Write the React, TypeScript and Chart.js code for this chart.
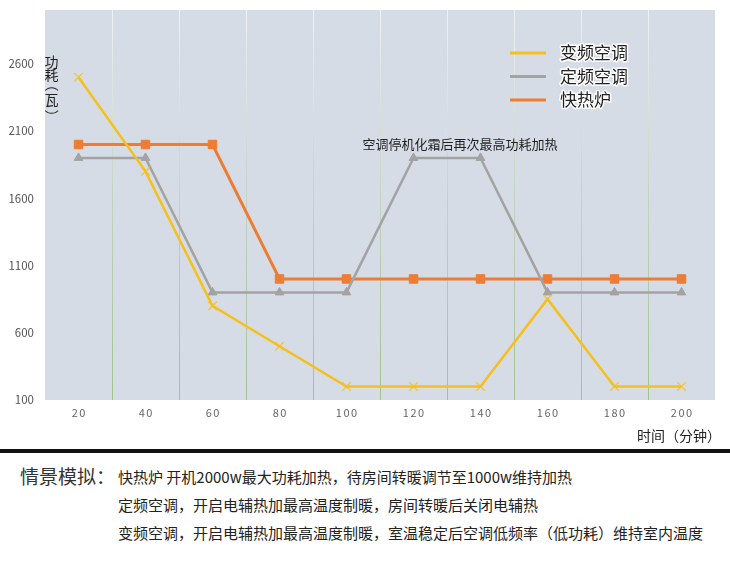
import React, { useEffect, useRef } from 'react';
import { Chart, registerables } from 'chart.js';

Chart.register(...registerables);

const FONT = '"Noto Sans CJK SC", "Noto Sans", sans-serif';

const categories = ['20', '40', '60', '80', '100', '120', '140', '160', '180', '200'];
const seriesNames = ['变频空调', '定频空调', '快热炉'];
const inverterAC = [2500, 1800, 800, 500, 200, 200, 200, 850, 200, 200];
const fixedAC = [1900, 1900, 900, 900, 900, 1900, 1900, 900, 900, 900];
const fastHeater = [2000, 2000, 2000, 1000, 1000, 1000, 1000, 1000, 1000, 1000];
const seriesColors = ['#f5c01c', '#a3a3a3', '#ee7d33'];
const yTicks = [100, 600, 1100, 1600, 2100, 2600];
const yMin = 100;
const yMax = 3000;
const yTitleChars = ['功', '耗', '（', '瓦', '）'];
const annotationText = '空调停机化霜后再次最高功耗加热';
const annotationValue = 2000;
const xTitle = '时间（分钟）';
const scenarioTitle = '情景模拟：';
const scenarioLines = [
  '快热炉 开机2000w最大功耗加热，待房间转暖调节至1000w维持加热',
  '定频空调，开启电辅热加最高温度制暖，房间转暖后关闭电辅热',
  '变频空调，开启电辅热加最高温度制暖，室温稳定后空调低频率（低功耗）维持室内温度',
];

const bgPlugin = {
  id: 'plotBg',
  beforeDraw(chart: any) {
    const { ctx, chartArea } = chart;
    if (!chartArea) return;
    ctx.save();
    ctx.fillStyle = '#d6dce5';
    ctx.fillRect(chartArea.left, chartArea.top, chartArea.right - chartArea.left, chartArea.bottom - chartArea.top);
    ctx.restore();
  },
};

const overlayPlugin = {
  id: 'overlay',
  afterDraw(chart: any) {
    const { ctx, chartArea } = chart;
    const xs = chart.scales.x;
    const ys = chart.scales.y;
    ctx.save();
    // x tick labels (letter-spaced)
    ctx.font = `11px ${FONT}`;
    ctx.fillStyle = '#666666';
    ctx.textAlign = 'center';
    ctx.textBaseline = 'middle';
    (ctx as any).letterSpacing = '1.5px';
    categories.forEach((c, i) => {
      ctx.fillText(c, xs.getPixelForValue(i) + 0.75, chartArea.bottom + 13);
    });
    (ctx as any).letterSpacing = '0px';

    // x title
    ctx.font = `14px ${FONT}`;
    ctx.fillStyle = '#222222';
    ctx.textAlign = 'right';
    ctx.fillText(xTitle, chartArea.right + 6, chartArea.bottom + 36);

    // y title (vertical, brackets turned and ink-centred)
    ctx.font = `14px ${FONT}`;
    ctx.textAlign = 'center';
    ctx.textBaseline = 'alphabetic';
    const yPos = [62, 75, 89, 101, 112];
    const cx = chartArea.left + 6.5;
    yTitleChars.forEach((ch, i) => {
      const cy = yPos[i];
      const m = ctx.measureText(ch);
      const inkCx = (m.actualBoundingBoxRight - m.actualBoundingBoxLeft) / 2;
      const inkCy = (m.actualBoundingBoxDescent - m.actualBoundingBoxAscent) / 2;
      ctx.save();
      ctx.translate(cx, cy);
      if (ch === '（' || ch === '）') ctx.rotate(Math.PI / 2);
      ctx.fillText(ch, -inkCx, -inkCy);
      ctx.restore();
    });
    ctx.textBaseline = 'middle';

    // annotation
    ctx.font = `13px ${FONT}`;
    ctx.fillStyle = '#1f1f1f';
    ctx.textAlign = 'center';
    const ax = (xs.getPixelForValue(5) + xs.getPixelForValue(6)) / 2 + 13;
    ctx.fillText(annotationText, ax, ys.getPixelForValue(annotationValue));

    // legend
    seriesNames.forEach((name, i) => {
      const y = chartArea.top + 43 + i * 23.5;
      const lx = chartArea.right - 205;
      ctx.strokeStyle = seriesColors[i];
      ctx.lineWidth = 3;
      ctx.beginPath();
      ctx.moveTo(lx, y);
      ctx.lineTo(lx + 36, y);
      ctx.stroke();
      ctx.font = `17px ${FONT}`;
      ctx.textAlign = 'left';
      ctx.lineJoin = 'round';
      ctx.lineWidth = 3;
      ctx.strokeStyle = '#ffffff';
      ctx.strokeText(name, lx + 50, y);
      ctx.fillStyle = '#222222';
      ctx.fillText(name, lx + 50, y);
    });
    ctx.restore();
  },
};

export default function App() {
  const ref = useRef<HTMLCanvasElement | null>(null);

  useEffect(() => {
    if (!ref.current) return;
    const chart = new Chart(ref.current, {
      type: 'line',
      data: {
        labels: categories,
        datasets: [
          {
            label: seriesNames[0],
            data: inverterAC,
            borderColor: seriesColors[0],
            backgroundColor: seriesColors[0],
            borderWidth: 2.5,
            pointStyle: 'crossRot',
            pointRadius: 6,
            pointBorderWidth: 1.5,
            pointBorderColor: 'rgba(245,192,28,0.75)',
            tension: 0,
          },
          {
            label: seriesNames[1],
            data: fixedAC,
            borderColor: seriesColors[1],
            backgroundColor: seriesColors[1],
            borderWidth: 2.5,
            pointStyle: 'triangle',
            pointRadius: 5,
            pointBorderWidth: 1,
            tension: 0,
          },
          {
            label: seriesNames[2],
            data: fastHeater,
            borderColor: seriesColors[2],
            backgroundColor: seriesColors[2],
            borderWidth: 3,
            pointStyle: 'rect',
            pointRadius: 6,
            pointBorderWidth: 1,
            tension: 0,
          },
        ],
      },
      options: {
        responsive: false,
        animation: false,
        layout: { padding: { left: 0, top: 10, right: 15, bottom: 0 } },
        plugins: {
          legend: { display: false },
          tooltip: { enabled: false },
        },
        scales: {
          x: {
            type: 'category',
            offset: true,
            border: { display: false },
            ticks: { display: false },
            grid: {
              offset: true,
              drawTicks: false,
              lineWidth: 1,
              color: (c: any) => {
                if (c.type !== 'tick' || c.index === 0) return 'rgba(0,0,0,0)';
                const ca = c.chart.chartArea;
                if (!ca) return '#b5c7ad';
                const g = c.chart.ctx.createLinearGradient(0, ca.top, 0, ca.bottom);
                g.addColorStop(0, '#eef1f4');
                g.addColorStop(0.5, '#c3d2bf');
                g.addColorStop(1, '#9fc38f');
                return g;
              },
            },
            afterFit: (s: any) => {
              s.height = 50;
            },
          },
          y: {
            min: yMin,
            max: yMax,
            border: { display: false },
            grid: { display: false, drawTicks: false },
            afterBuildTicks: (s: any) => {
              s.ticks = yTicks.map((v) => ({ value: v }));
            },
            ticks: {
              padding: 11,
              color: '#555555',
              font: { family: FONT, size: 11.5 },
              callback: (v: any) => String(v),
            },
            afterFit: (s: any) => {
              s.width = 45;
              s.paddingTop = 0;
              s.paddingBottom = 0;
            },
          },
        },
      },
      plugins: [bgPlugin, overlayPlugin],
    });
    return () => chart.destroy();
  }, []);

  return (
    <div
      style={{
        position: 'absolute',
        left: 0,
        top: 0,
        width: 730,
        height: 567,
        background: '#ffffff',
        fontFamily: FONT,
        overflow: 'hidden',
      }}
    >
      <canvas ref={ref} width={730} height={450} style={{ position: 'absolute', left: 0, top: 0, width: 730, height: 450 }} />
      <div style={{ position: 'absolute', left: 0, top: 449, width: 730, height: 4, background: '#111111' }} />
      <div
        style={{
          position: 'absolute',
          left: 20,
          top: 462,
          fontSize: 19,
          lineHeight: '28px',
          color: '#333333',
          whiteSpace: 'pre',
        }}
      >
        {scenarioTitle}
      </div>
      {scenarioLines.map((t, i) => (
        <div
          key={i}
          style={{
            position: 'absolute',
            left: 118,
            top: 463 + i * 28,
            fontSize: 15,
            lineHeight: '28px',
            color: '#222222',
            whiteSpace: 'pre',
          }}
        >
          {t}
        </div>
      ))}
    </div>
  );
}
